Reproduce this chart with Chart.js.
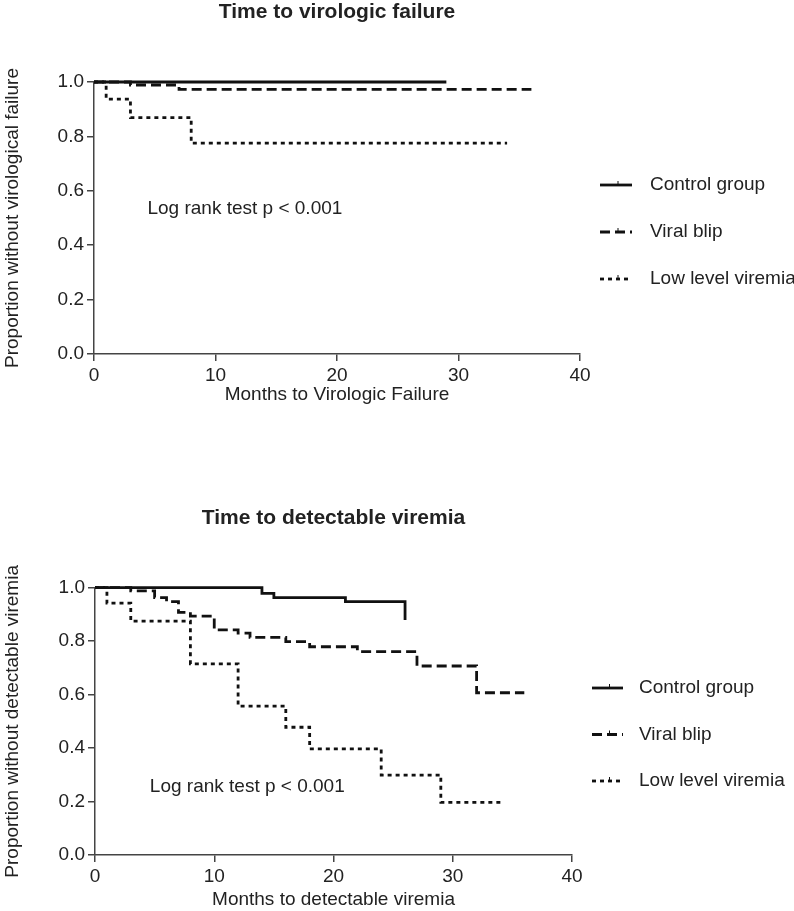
<!DOCTYPE html>
<html>
<head>
<meta charset="utf-8">
<script src="https://cdn.jsdelivr.net/npm/chart.js@4.4.1/dist/chart.umd.min.js"></script>
<style>
  body { margin: 0; background: #fff; }
  canvas { display: block; }
</style>
</head>
<body>
<canvas id="chart1" width="794" height="420"></canvas>
<canvas id="chart2" width="794" height="491"></canvas>
<script>
// values: months and proportion still free of the event
const groups = ['Control group', 'Viral blip', 'Low level viremia'];

// time to virologic failure
const vfControlT = [0, 29];
const vfControlS = [1, 1];
const vfBlipT = [0, 3, 7, 36];
const vfBlipS = [1, 0.989, 0.973, 0.973];
const vfLowT = [0, 1, 3, 8, 34];
const vfLowS = [1, 0.937, 0.869, 0.775, 0.775];

// time to detectable viremia
const dvControlT = [0, 14, 15, 21, 26, 26];
const dvControlS = [1, 0.979, 0.963, 0.948, 0.948, 0.879];
const dvBlipT = [0, 3, 5, 6, 7, 8, 10, 12, 13, 16, 18, 22, 27, 32, 36];
const dvBlipS = [1, 0.988, 0.963, 0.948, 0.908, 0.894, 0.842, 0.83, 0.814, 0.798, 0.779, 0.761, 0.707, 0.607, 0.607];
const dvLowT = [0, 1, 3, 8, 12, 16, 18, 24, 29, 34];
const dvLowS = [1, 0.942, 0.875, 0.715, 0.557, 0.478, 0.397, 0.299, 0.197, 0.197];

const xTicks = [0, 10, 20, 30, 40];
const yTicks = [0, 0.2, 0.4, 0.6, 0.8, 1.0];
const logRank = 'Log rank test p < 0.001';

const dashes = [[], [10, 5], [4, 4]];
const axisColor = '#444';
const textColor = '#222';

Chart.defaults.font.family = '"Liberation Sans", Arial, sans-serif';
Chart.defaults.font.size = 19;
Chart.defaults.color = textColor;

function km(t, s) {
    return t.map((v, i) => ({ x: v, y: s[i] }));
}

// legend drawn as line samples with the dataset dash, like the original
const sideLegend = {
    id: 'sideLegend',
    afterDraw(chart, args, opts) {
        const ctx = chart.ctx;
        ctx.save();
        chart.data.datasets.forEach((ds, i) => {
            const y = opts.top + i * opts.gap;
            ctx.strokeStyle = ds.borderColor;
            ctx.lineWidth = ds.borderWidth;
            ctx.setLineDash(ds.borderDash);
            ctx.beginPath();
            ctx.moveTo(opts.left, y);
            ctx.lineTo(opts.left + opts.len, y);
            ctx.stroke();
            ctx.setLineDash([]);
            ctx.lineWidth = 1;
            ctx.beginPath();
            ctx.moveTo(opts.left + opts.len / 2 + 2, y);
            ctx.lineTo(opts.left + opts.len / 2 + 2, y - 4);
            ctx.stroke();
            ctx.fillStyle = textColor;
            ctx.font = '19px "Liberation Sans", Arial, sans-serif';
            ctx.textBaseline = 'middle';
            ctx.fillText(ds.label, opts.left + opts.len + opts.textGap, y);
        });
        ctx.restore();
    }
};

// "Log rank" note placed in data coordinates
const note = {
    id: 'note',
    afterDraw(chart, args, opts) {
        const ctx = chart.ctx;
        const x = chart.scales.x.getPixelForValue(opts.x);
        const y = chart.scales.y.getPixelForValue(opts.y);
        ctx.save();
        ctx.fillStyle = textColor;
        ctx.font = '19px "Liberation Sans", Arial, sans-serif';
        ctx.textBaseline = 'middle';
        ctx.fillText(opts.text, x, y);
        ctx.restore();
    }
};

function makeChart(id, cfg) {
    const sets = cfg.series.map((s, i) => ({
        label: groups[i],
        data: km(s[0], s[1]),
        stepped: true,
        borderColor: '#111',
        borderWidth: 2.8,
        borderDash: dashes[i],
        pointRadius: 0,
        fill: false,
        clip: false
    }));
    return new Chart(document.getElementById(id), {
        type: 'line',
        data: { datasets: sets },
        plugins: [sideLegend, note],
        options: {
            responsive: false,
            animation: false,
            layout: { padding: { left: 0, right: cfg.right, top: cfg.titleTop, bottom: 0 } },
            plugins: {
                legend: { display: false },
                tooltip: { enabled: false },
                title: {
                    display: true,
                    fullSize: false,
                    text: cfg.title,
                    color: textColor,
                    font: { size: 21, weight: 'bold' },
                    padding: { top: 0, bottom: cfg.titleGap }
                },
                sideLegend: cfg.legend,
                note: { text: logRank, x: cfg.noteX, y: cfg.noteY }
            },
            scales: {
                x: {
                    type: 'linear',
                    min: 0,
                    max: 40,
                    afterBuildTicks: s => { s.ticks = xTicks.map(v => ({ value: v })); },
                    afterFit: s => { s.height = cfg.xHeight; },
                    ticks: { padding: 3, color: textColor },
                    grid: { drawOnChartArea: false, tickLength: 7, color: axisColor, lineWidth: 1.5 },
                    border: { color: axisColor, width: 1.5 },
                    title: { display: true, text: cfg.xTitle, color: textColor, padding: { top: 0, bottom: cfg.xTitlePad } }
                },
                y: {
                    min: 0,
                    max: 1,
                    afterBuildTicks: s => { s.ticks = yTicks.map(v => ({ value: v })); },
                    afterFit: s => { s.width = cfg.yWidth; },
                    ticks: { padding: 3, color: textColor, callback: v => v.toFixed(1) },
                    grid: { drawOnChartArea: false, tickLength: 7, color: axisColor, lineWidth: 1.5 },
                    border: { color: axisColor, width: 1.5 },
                    title: { display: true, text: cfg.yTitle, color: textColor, padding: { top: 1, bottom: 0 } }
                }
            }
        }
    });
}

makeChart('chart1', {
    title: 'Time to virologic failure',
    xTitle: 'Months to Virologic Failure',
    yTitle: 'Proportion without virological failure',
    series: [[vfControlT, vfControlS], [vfBlipT, vfBlipS], [vfLowT, vfLowS]],
    right: 214, titleTop: 0, titleGap: 56.8,
    xHeight: 66, xTitlePad: 14, yWidth: 94,
    legend: { left: 600, top: 185, gap: 47, len: 32, textGap: 18 },
    noteX: 4.4, noteY: 0.535
});

makeChart('chart2', {
    title: 'Time to detectable viremia',
    xTitle: 'Months to detectable viremia',
    yTitle: 'Proportion without detectable viremia',
    series: [[dvControlT, dvControlS], [dvBlipT, dvBlipS], [dvLowT, dvLowS]],
    right: 222, titleTop: 85.4, titleGap: 57.1,
    xHeight: 56, xTitlePad: 0, yWidth: 95,
    legend: { left: 592, top: 268, gap: 46.5, len: 31, textGap: 16 },
    noteX: 4.6, noteY: 0.256
});
</script>
</body>
</html>
